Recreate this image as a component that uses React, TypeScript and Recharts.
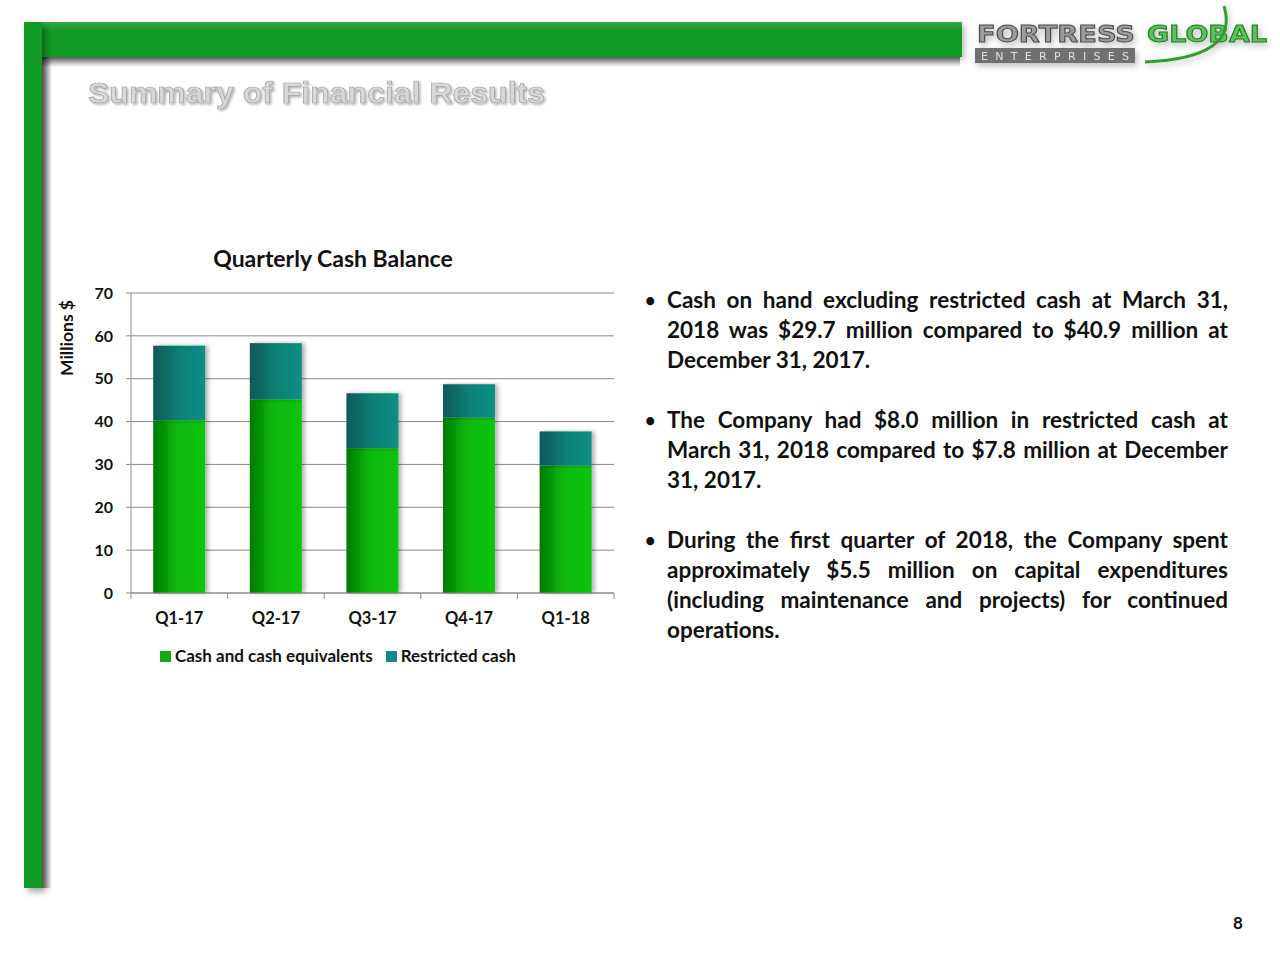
import React from "react";
import { Bar, BarChart, CartesianGrid, Legend, XAxis, YAxis } from "recharts";

const quarters = ["Q1-17", "Q2-17", "Q3-17", "Q4-17", "Q1-18"];
const cashEquivalents = [40.3, 45.2, 33.8, 40.9, 29.7];
const restrictedCash = [17.4, 13.1, 12.8, 7.8, 8.0];
const yTicks = [0, 10, 20, 30, 40, 50, 60, 70];

const bullets = [
  [
    "Cash on hand excluding restricted cash at March 31,",
    "2018 was $29.7 million compared to $40.9 million at",
    "December 31, 2017.",
  ],
  [
    "The Company had $8.0 million in restricted cash at",
    "March 31, 2018 compared to $7.8 million at December",
    "31, 2017.",
  ],
  [
    "During the first quarter of 2018, the Company spent",
    "approximately $5.5 million on capital expenditures",
    "(including maintenance and projects) for continued",
    "operations.",
  ],
];

const data = quarters.map((q, i) => ({
  quarter: q,
  cash: cashEquivalents[i],
  restricted: restrictedCash[i],
}));

const FONT = "Lato, 'Open Sans', sans-serif";
const GREEN = "#129a27";

const CHART_W = 570;
const CHART_H = 440;
const MARGIN = { top: 53, right: 16, left: 31, bottom: 7 };
const Y_W = 40;
const catWidth = (CHART_W - MARGIN.left - MARGIN.right - Y_W) / quarters.length;
const TICK_GAP = 12;

function QuarterTick(props: any) {
  const { x, y, payload, index } = props;
  const axisY = y - TICK_GAP;
  return (
    <g>
      <line x1={x - catWidth / 2} x2={x - catWidth / 2} y1={axisY} y2={axisY + 6} stroke="#8a8a8a" />
      {index === quarters.length - 1 && (
        <line x1={x + catWidth / 2} x2={x + catWidth / 2} y1={axisY} y2={axisY + 6} stroke="#8a8a8a" />
      )}
      <text
        x={x}
        y={axisY + 25}
        textAnchor="middle"
        dominantBaseline="central"
        fill="#111"
        fontFamily={FONT}
        fontWeight={700}
        fontSize={16.5}
      >
        {payload.value}
      </text>
    </g>
  );
}

function ShadowRect(props: any) {
  const { x, y, width, height, fill } = props;
  if (!height || height <= 0) return null;
  return <rect x={x} y={y} width={width} height={height} fill={fill} filter="url(#barShadow)" />;
}

function CashLegend() {
  const items = [
    { label: "Cash and cash equivalents", color: "#13a815" },
    { label: "Restricted cash", color: "#0e8a80" },
  ];
  return (
    <div
      style={{
        height: 50,
        paddingTop: 16,
        boxSizing: "border-box",
        display: "flex",
        fontFamily: FONT,
        fontWeight: 700,
        fontSize: 17,
        color: "#111",
        lineHeight: "20px",
      }}
    >
      {items.map((it) => (
        <div key={it.label} style={{ display: "flex", alignItems: "center", marginRight: 13 }}>
          <span style={{ width: 11, height: 11, background: it.color, marginRight: 4, display: "inline-block" }} />
          {it.label}
        </div>
      ))}
    </div>
  );
}

function Logo() {
  return (
    <svg width={340} height={80} style={{ position: "absolute", left: 940, top: 0 }}>
      <defs>
        <filter id="logoShadow" x="-10%" y="-30%" width="130%" height="180%">
          <feDropShadow dx="2" dy="3" stdDeviation="3" floodColor="#000" floodOpacity="0.25" />
        </filter>
      </defs>
      <g filter="url(#logoShadow)">
        <text
          x={37}
          y={42}
          fontFamily="'DejaVu Sans', sans-serif"
          fontWeight={700}
          fontSize={23}
          textLength={158}
          lengthAdjust="spacingAndGlyphs"
          fill="#9c9c9c"
          stroke="#4a4a4a"
          strokeWidth={1}
        >
          FORTRESS
        </text>
        <text
          x={207}
          y={42}
          fontFamily="'DejaVu Sans', sans-serif"
          fontWeight={700}
          fontSize={23}
          textLength={120}
          lengthAdjust="spacingAndGlyphs"
          fill="#5cc05c"
          stroke="#1c7d1c"
          strokeWidth={1}
        >
          GLOBAL
        </text>
        <rect x={35} y={48} width={160} height={15} fill="#707070" />
        <text
          x={41}
          y={60}
          fontFamily="'DejaVu Sans', sans-serif"
          fontSize={11}
          textLength={148}
          lengthAdjust="spacing"
          fill="#e0e0e0"
        >
          ENTERPRISES
        </text>
        <path d="M205,62 Q300,58 284,6" fill="none" stroke="#2f9f2f" strokeWidth={3} />
      </g>
    </svg>
  );
}

export default function App() {
  return (
    <div
      style={{
        position: "absolute",
        left: 0,
        top: 0,
        width: 1280,
        height: 960,
        background: "#ffffff",
        overflow: "hidden",
        fontFamily: FONT,
      }}
    >
      {/* slide frame */}
      <div
        style={{
          position: "absolute",
          left: 24,
          top: 22,
          width: 938,
          height: 35,
          background: `linear-gradient(180deg, #3aa846 0%, ${GREEN} 25%, ${GREEN} 100%)`,
          boxShadow: "3px 3px 6px rgba(0,0,0,0.25)",
        }}
      />
      <div
        style={{
          position: "absolute",
          left: 24,
          top: 22,
          width: 18,
          height: 866,
          background: GREEN,
          boxShadow: "4px 4px 6px rgba(0,0,0,0.35)",
        }}
      />
      <div
        style={{
          position: "absolute",
          left: 42,
          top: 57,
          width: 918,
          height: 10,
          background: "linear-gradient(180deg, rgba(0,0,0,0.55), rgba(0,0,0,0))",
        }}
      />
      <div
        style={{
          position: "absolute",
          left: 42,
          top: 57,
          width: 10,
          height: 831,
          background: "linear-gradient(90deg, rgba(0,0,0,0.55), rgba(0,0,0,0))",
        }}
      />

      <Logo />

      <svg width={520} height={50} style={{ position: "absolute", left: 80, top: 70 }}>
        <defs>
          <filter id="titleShadow">
            <feDropShadow dx="1.5" dy="1.5" stdDeviation="1" floodColor="#000" floodOpacity="0.3" />
          </filter>
        </defs>
        <text
          x={8}
          y={33}
          fontFamily="'Liberation Sans', Arial, sans-serif"
          fontWeight={700}
          fontSize={29}
          textLength={457}
          lengthAdjust="spacingAndGlyphs"
          fill="#d8d8d8"
          stroke="#a0a0a0"
          strokeWidth={0.7}
          filter="url(#titleShadow)"
        >
          Summary of Financial Results
        </text>
      </svg>

      {/* chart title and y label */}
      <div
        style={{
          position: "absolute",
          left: 333,
          top: 258,
          transform: "translate(-50%, -50%)",
          fontWeight: 700,
          fontSize: 23,
          color: "#111",
          whiteSpace: "nowrap",
        }}
      >
        Quarterly Cash Balance
      </div>
      <div
        style={{
          position: "absolute",
          left: 66,
          top: 338,
          transform: "translate(-50%, -50%) rotate(-90deg)",
          fontWeight: 700,
          fontSize: 17.5,
          color: "#111",
          whiteSpace: "nowrap",
        }}
      >
        Millions $
      </div>

      <div style={{ position: "absolute", left: 60, top: 240 }}>
        <BarChart width={CHART_W} height={CHART_H} data={data} margin={MARGIN} barCategoryGap="23%">
          <defs>
            <linearGradient id="cashGrad" x1="0" y1="0" x2="1" y2="0">
              <stop offset="0%" stopColor="#007a00" />
              <stop offset="45%" stopColor="#0bb80d" />
              <stop offset="100%" stopColor="#10c412" />
            </linearGradient>
            <linearGradient id="restrictedGrad" x1="0" y1="0" x2="1" y2="0">
              <stop offset="0%" stopColor="#0a5a55" />
              <stop offset="50%" stopColor="#0b7f76" />
              <stop offset="100%" stopColor="#0d8f84" />
            </linearGradient>
            <filter id="barShadow" x="-10%" y="-5%" width="130%" height="110%">
              <feDropShadow dx="3" dy="0" stdDeviation="2" floodColor="#000" floodOpacity="0.3" />
            </filter>
          </defs>
          <CartesianGrid vertical={false} stroke="#8a8a8a" />
          <XAxis
            dataKey="quarter"
            stroke="#8a8a8a"
            tickLine={false}
            tickSize={0}
            tickMargin={TICK_GAP}
            height={30}
            tick={<QuarterTick />}
            interval={0}
          />
          <YAxis
            width={Y_W}
            domain={[0, 70]}
            ticks={yTicks}
            stroke="#8a8a8a"
            tickSize={5}
            tickMargin={13}
            tick={{ fill: "#111", fontSize: 16, fontWeight: 700, fontFamily: FONT }}
          />
          <Legend
            verticalAlign="bottom"
            align="left"
            height={50}
            wrapperStyle={{ left: 100 }}
            content={<CashLegend />}
          />
          <Bar
            dataKey="cash"
            name="Cash and cash equivalents"
            stackId="cash"
            fill="url(#cashGrad)"
            shape={<ShadowRect />}
            isAnimationActive={false}
          />
          <Bar
            dataKey="restricted"
            name="Restricted cash"
            stackId="cash"
            fill="url(#restrictedGrad)"
            shape={<ShadowRect />}
            isAnimationActive={false}
          />
        </BarChart>
      </div>

      {/* commentary */}
      {bullets.map((para, pi) => (
        <div
          key={pi}
          style={{
            position: "absolute",
            left: 645,
            top: 285 + pi * 120,
            width: 583,
            fontWeight: 700,
            fontSize: 22.5,
            color: "#111",
            lineHeight: "30px",
          }}
        >
          <span style={{ position: "absolute", left: 0, top: 0, fontSize: 18 }}>•</span>
          {para.map((line, li) => (
            <div
              key={li}
              style={{
                marginLeft: 22,
                height: 30,
                whiteSpace: "nowrap",
                textAlign: li === para.length - 1 ? "left" : "justify",
                textAlignLast: li === para.length - 1 ? "left" : "justify",
              }}
            >
              {line}
            </div>
          ))}
        </div>
      ))}

      <div
        style={{
          position: "absolute",
          left: 1233,
          top: 912,
          fontWeight: 700,
          fontSize: 17,
          color: "#111",
        }}
      >
        8
      </div>
    </div>
  );
}
